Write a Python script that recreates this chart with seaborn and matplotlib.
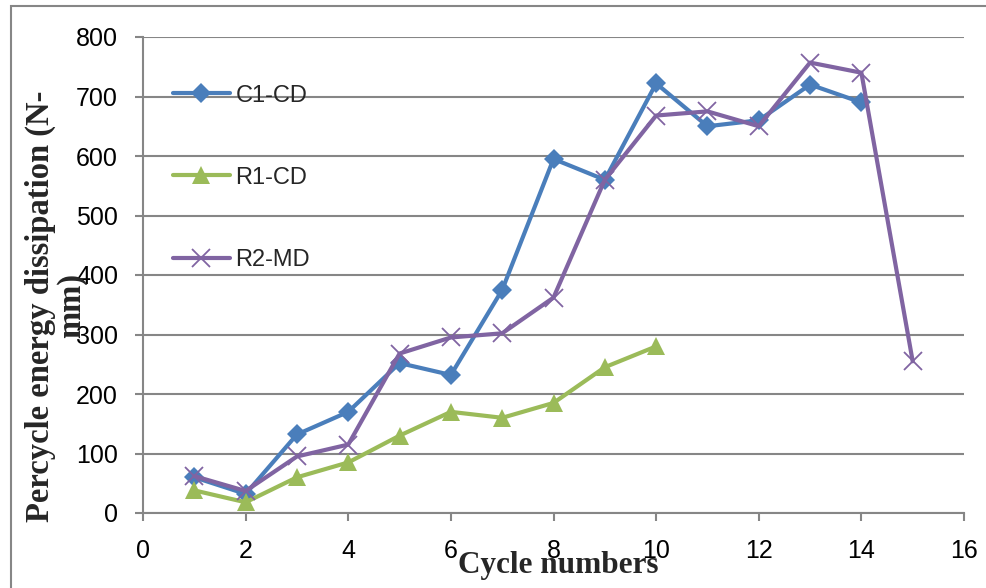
import matplotlib
matplotlib.use("Agg")
import matplotlib.pyplot as plt
import seaborn as sns
import pandas as pd
from matplotlib.patches import Rectangle

# ---- data ----
c1_cycles = [1, 2, 3, 4, 5, 6, 7, 8, 9, 10, 11, 12, 13, 14]
c1_values = [60, 32, 132, 170, 252, 232, 375, 595, 560, 722, 650, 660, 720, 690]
r1_cycles = [1, 2, 3, 4, 5, 6, 7, 8, 9, 10]
r1_values = [38, 18, 60, 85, 130, 170, 160, 185, 245, 280]
r2_cycles = [1, 2, 3, 4, 5, 6, 7, 8, 9, 10, 11, 12, 13, 14, 15]
r2_values = [62, 37, 95, 115, 268, 295, 302, 362, 560, 668, 675, 650, 757, 740, 255]
series_names = ["C1-CD", "R1-CD", "R2-MD"]
x_ticks = [0, 2, 4, 6, 8, 10, 12, 14, 16]
y_ticks = [0, 100, 200, 300, 400, 500, 600, 700, 800]

sns.set_theme(style="white")
plt.rcParams["font.family"] = ["Liberation Sans", "DejaVu Sans"]

fig = plt.figure(figsize=(9.87, 5.88), dpi=100)
ax = fig.add_axes([143 / 987, 1 - 513 / 588, (964 - 143) / 987, (513 - 37) / 588])

grey = "#868686"
colors = ["#4A7EBB", "#9BBB59", "#8064A2"]

df_c1 = pd.DataFrame({"cycle": c1_cycles, "value": c1_values})
df_r1 = pd.DataFrame({"cycle": r1_cycles, "value": r1_values})
df_r2 = pd.DataFrame({"cycle": r2_cycles, "value": r2_values})

sns.lineplot(data=df_c1, x="cycle", y="value", ax=ax, color=colors[0], lw=3,
             marker="D", markersize=10, markeredgewidth=0, label=series_names[0],
             clip_on=False, zorder=3)
sns.lineplot(data=df_r1, x="cycle", y="value", ax=ax, color=colors[1], lw=3,
             marker="^", markersize=13, markeredgewidth=0, label=series_names[1],
             clip_on=False, zorder=3)
sns.lineplot(data=df_r2, x="cycle", y="value", ax=ax, color=colors[2], lw=3,
             marker="x", markersize=13, markeredgewidth=1.3, markeredgecolor=colors[2],
             label=series_names[2], clip_on=False, zorder=4)

ax.set_xlim(0, 16)
ax.set_ylim(0, 800)
ax.set_xticks(x_ticks)
ax.set_yticks(y_ticks)
ax.set_xlabel("")
ax.set_ylabel("")
ax.yaxis.grid(True, color=grey, lw=1.5)
ax.xaxis.grid(False)
for s in ["top", "right"]:
    ax.spines[s].set_visible(False)
for s in ["left", "bottom"]:
    ax.spines[s].set_color(grey)
    ax.spines[s].set_linewidth(1.5)
ax.tick_params(axis="both", which="major", direction="out", length=6, width=1.5,
               color=grey, labelsize=18, labelcolor="black")
ax.tick_params(axis="x", bottom=True, pad=13)
ax.tick_params(axis="y", left=True, pad=12)

leg = ax.legend(loc="upper left", bbox_to_anchor=(0.025, 0.92), frameon=False,
                fontsize=17, handlelength=2.4, handletextpad=0.25, labelspacing=2.55,
                borderaxespad=0)

fig.text(56 / 987, 1 - 306 / 588, "Percycle energy dissipation (N-\nmm)",
         rotation=90, ha="center", va="center", multialignment="center",
         fontsize=23.5, fontweight="bold", family=["Liberation Serif", "DejaVu Serif"],
         linespacing=1.0)
fig.text(558 / 987, 1 - 573 / 588, "Cycle numbers", ha="center", va="baseline",
         fontsize=22.5, fontweight="bold", family=["Liberation Serif", "DejaVu Serif"])

fig.patches.append(Rectangle((11 / 987, -0.05), 1.2, 1 - 6 / 588 + 0.05,
                             transform=fig.transFigure, fill=False,
                             edgecolor=grey, lw=1.5))

fig.savefig("out.png", dpi=100)
